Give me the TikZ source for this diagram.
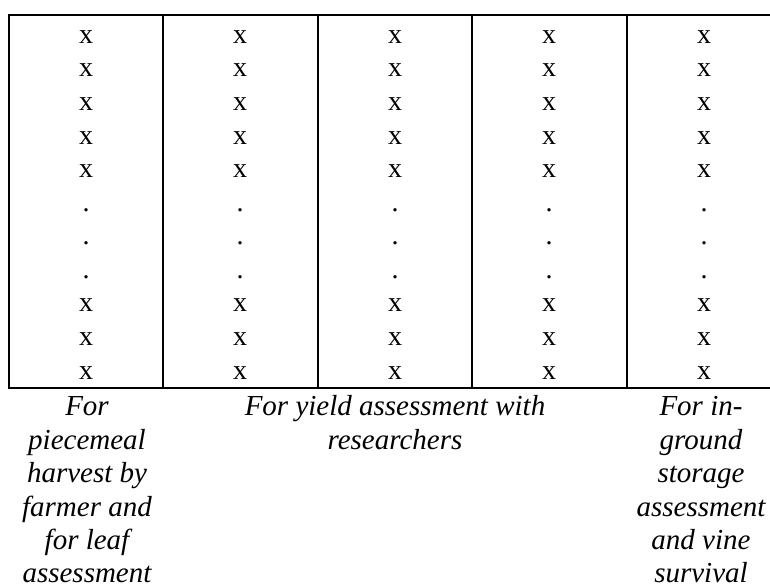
\documentclass[tikz,border=0pt]{standalone}
\usepackage{fontspec}
\setmainfont{Liberation Serif}
\begin{document}
\begin{tikzpicture}[x=1pt,y=-1pt,
  cell/.style={anchor=base, inner sep=0pt, font=\fontsize{28}{34}\selectfont},
  captext/.style={anchor=base, inner sep=0pt, font=\fontsize{29}{34}\selectfont\itshape},
  tablerule/.style={line width=1.6pt}]
\useasboundingbox (0,0) rectangle (770,584);
% horizontal rules
\draw[tablerule] (8.2,15) -- (775,15);
\draw[tablerule] (8.2,388) -- (775,388);
% vertical rules
\foreach \vx in {9,163,318,472,627}
  \draw[tablerule] (\vx,15) -- (\vx,388);
% cells
\foreach \c/\cx in {1/86,2/240,3/395,4/549,5/704}
  \foreach \r/\t in {0/x,1/x,2/x,3/x,4/x,5/.,6/.,7/.,8/x,9/x,10/x}
    \node[cell] (cell-\c-\r) at (\cx,{43.3+33.57*\r}) {\t};
% captions, column 1
\node[captext] (a1) at (87,415) {For};
\node[captext] (a2) at (87,449) {piecemeal};
\node[captext] (a3) at (87,482.5) {harvest by};
\node[captext] (a4) at (87,516) {farmer and};
\node[captext] (a5) at (87,549.5) {for leaf};
\node[captext] (a6) at (87,582) {assessment};
% captions, columns 2-4
\node[captext] (b1) at (395,415) {For yield assessment with};
\node[captext] (b2) at (395,449) {researchers};
% captions, column 5
\node[captext] (c1) at (701,415) {For in-};
\node[captext] (c2) at (701,449) {ground};
\node[captext] (c3) at (701,482.5) {storage};
\node[captext] (c4) at (701,516) {assessment};
\node[captext] (c5) at (701,549.5) {and vine};
\node[captext] (c6) at (701,582) {survival};
\end{tikzpicture}
\end{document}
